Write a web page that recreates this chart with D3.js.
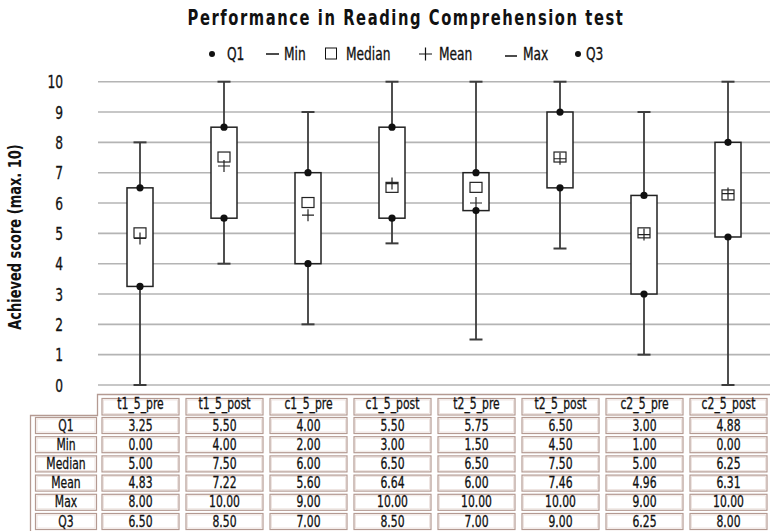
<!DOCTYPE html>
<html>
<head>
<meta charset="utf-8">
<script src="https://cdn.jsdelivr.net/npm/d3@7"></script>
<style>
  html, body { margin: 0; padding: 0; background: #fff; }
  svg { display: block; }
  text { font-family: "DejaVu Sans Condensed", "DejaVu Sans", sans-serif; fill: #111; }
</style>
</head>
<body>
<svg id="chart" width="770" height="531"></svg>
<script>
const categories = ["t1_5_pre","t1_5_post","c1_5_pre","c1_5_post","t2_5_pre","t2_5_post","c2_5_pre","c2_5_post"];
const q1Values     = [3.25, 5.50, 4.00, 5.50, 5.75, 6.50, 3.00, 4.88];
const minValues    = [0.00, 4.00, 2.00, 3.00, 1.50, 4.50, 1.00, 0.00];
const medianValues = [5.00, 7.50, 6.00, 6.50, 6.50, 7.50, 5.00, 6.25];
const meanValues   = [4.83, 7.22, 5.60, 6.64, 6.00, 7.46, 4.96, 6.31];
const maxValues    = [8.00, 10.00, 9.00, 10.00, 10.00, 10.00, 9.00, 10.00];
const q3Values     = [6.50, 8.50, 7.00, 8.50, 7.00, 9.00, 6.25, 8.00];
// lower whisker end as drawn in the picture (differs from table for c1_5_post)
const minPlotted   = [0.00, 4.00, 2.00, 4.67, 1.50, 4.50, 1.00, 0.00];
const yTicks = [0,1,2,3,4,5,6,7,8,9,10];
const rowLabels = ["Q1","Min","Median","Mean","Max","Q3"];
const tableRows = [q1Values, minValues, medianValues, meanValues, maxValues, q3Values];

const SX = 0.8; // horizontal compression to mimic a condensed face
const svg = d3.select("#chart");
const x = d3.scaleBand().domain(categories).range([98, 770]).padding(0);
const y = d3.scaleLinear().domain([0, 10]).range([385, 81.7]);

function ctext(parent, px, py, str, size, anchor, opts = {}) {
  const t = parent.append("text")
    .attr("transform", `translate(${px},${py})${opts.rotate ? ` rotate(${opts.rotate})` : ""} scale(${opts.sx || SX},1)`)
    .attr("text-anchor", anchor || "start")
    .style("font-size", size + "px")
    .text(str);
  if (opts.bold) t.style("font-weight", "bold");
  else t.attr("stroke", "#111").attr("stroke-width", 0.3);
  if (opts.ls) t.style("letter-spacing", opts.ls + "px");
  return t;
}

// title: letter-spaced, then compressed to the measured width
const title = ctext(svg, 406, 25, "Performance in Reading Comprehension test", 21, "middle", { bold: true, ls: 2, sx: 1 });
const tw = title.node().getComputedTextLength();
title.attr("transform", `translate(406,25) scale(${437 / tw},1)`);

// legend
const lg = svg.append("g");
const ly = 54;
const lfs = 17;
lg.append("circle").attr("cx", 212).attr("cy", ly).attr("r", 3).attr("fill", "#111");
ctext(lg, 227, ly + 6, "Q1", lfs);
lg.append("line").attr("x1", 266).attr("x2", 279).attr("y1", ly).attr("y2", ly).attr("stroke", "#111").attr("stroke-width", 1.5);
ctext(lg, 284, ly + 6, "Min", lfs);
lg.append("rect").attr("x", 325.5).attr("y", ly - 6).attr("width", 11).attr("height", 11).attr("fill", "#fff").attr("stroke", "#111").attr("stroke-width", 1);
ctext(lg, 346, ly + 6, "Median", lfs);
lg.append("path").attr("d", `M419,${ly}H432M425.5,${ly-6.5}V${ly+6.5}`).attr("stroke", "#111").attr("stroke-width", 1.2).attr("fill", "none");
ctext(lg, 439, ly + 6, "Mean", lfs);
lg.append("line").attr("x1", 505).attr("x2", 517).attr("y1", ly + 2).attr("y2", ly + 2).attr("stroke", "#111").attr("stroke-width", 1.5);
ctext(lg, 523, ly + 6, "Max", lfs);
lg.append("circle").attr("cx", 578).attr("cy", ly).attr("r", 3).attr("fill", "#111");
ctext(lg, 586, ly + 6, "Q3", lfs);

// gridlines
svg.append("g").selectAll("line").data(yTicks).join("line")
  .attr("x1", 98).attr("x2", 770)
  .attr("y1", d => y(d)).attr("y2", d => y(d))
  .attr("stroke", "#b4b4b4").attr("stroke-width", 1.6);

// y axis labels
const yAxis = d3.axisLeft(y).tickValues(yTicks).tickSize(0).tickPadding(0);
const ya = svg.append("g").attr("transform", "translate(63,0)").call(yAxis);
ya.select(".domain").remove();
ya.selectAll("text").style("font-size", "17px").style("font-family", null).attr("fill", "#111")
  .attr("stroke", "#111").attr("stroke-width", 0.3)
  .attr("x", 0).attr("dy", "0.36em").attr("transform", `scale(${SX},1)`);

// y axis title
ctext(svg, 21, 237, "Achieved score (max. 10)", 17, "middle", { rotate: -90, bold: true, sx: 0.85 });

// boxes
const bw = 26;
const g = svg.append("g");
categories.forEach((c, i) => {
  const cx = x(c) + x.bandwidth() / 2;
  g.append("line").attr("x1", cx).attr("x2", cx).attr("y1", y(maxValues[i])).attr("y2", y(minPlotted[i]))
    .attr("stroke", "#3c3c3c").attr("stroke-width", 1.8);
  [maxValues[i], minPlotted[i]].forEach(v => {
    g.append("line").attr("x1", cx - 6.5).attr("x2", cx + 6.5).attr("y1", y(v)).attr("y2", y(v))
      .attr("stroke", "#3c3c3c").attr("stroke-width", 2);
  });
  g.append("rect").attr("x", cx - bw / 2).attr("y", y(q3Values[i])).attr("width", bw)
    .attr("height", y(q1Values[i]) - y(q3Values[i])).attr("fill", "#fff").attr("stroke", "#222").attr("stroke-width", 1.5);
  g.append("rect").attr("x", cx - 6).attr("y", y(medianValues[i]) - 5.5).attr("width", 12).attr("height", 10)
    .attr("fill", "none").attr("stroke", "#222").attr("stroke-width", 1.2);
  g.append("path").attr("d", `M${cx - 6},${y(meanValues[i])}H${cx + 6}M${cx},${y(meanValues[i]) - 6}V${y(meanValues[i]) + 6}`)
    .attr("stroke", "#222").attr("stroke-width", 1.2).attr("fill", "none");
  [q1Values[i], q3Values[i]].forEach(v => {
    g.append("circle").attr("cx", cx).attr("cy", y(v)).attr("r", 3.6).attr("fill", "#111");
  });
});

// table
const tb = svg.append("g");
const border = "#b49a92";
tb.append("path").attr("d", "M30.5,531V415.5H97.5V394.5H770").attr("fill", "none").attr("stroke", border).attr("stroke-width", 1.3);
const headerTop = 398, headerH = 16.5, rowTop = 417, rowPitch = 19.2, rowH = 16;
function cell(x0, y0, w, h, label, dy) {
  tb.append("rect").attr("x", x0 + 0.5).attr("y", y0 + 0.5).attr("width", w).attr("height", h)
    .attr("fill", "#fff").attr("stroke", border).attr("stroke-width", 1.2);
  tb.append("rect").attr("x", x0 + 2).attr("y", y0 + 2).attr("width", w - 3).attr("height", h - 3)
    .attr("fill", "none").attr("stroke", "#eadfdb").attr("stroke-width", 0.8);
  ctext(tb, x0 + w / 2 + 0.5, y0 + h / 2 + dy, label, 15, "middle");
}
categories.forEach((c, i) => {
  const x0 = x(c) + 3.5, w = x.bandwidth() - 7;
  cell(x0, headerTop, w, headerH, c, 3);
  tableRows.forEach((row, r) => cell(x0, rowTop + r * rowPitch, w, rowH, row[i].toFixed(2), 5.5));
});
rowLabels.forEach((lab, r) => cell(35, rowTop + r * rowPitch, 61, rowH, lab, 5.5));
</script>
</body>
</html>
